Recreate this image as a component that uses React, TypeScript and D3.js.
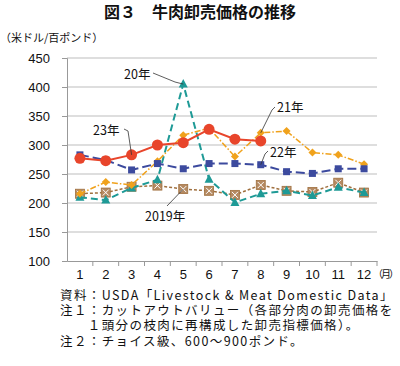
import React, { useEffect, useRef } from 'react';
import * as d3 from 'd3';

const width = 400;
const height = 366;
const margin = { top: 58, right: 23, bottom: 105, left: 67 };

const months = ['1', '2', '3', '4', '5', '6', '7', '8', '9', '10', '11', '12'];
const yTicks = [100, 150, 200, 250, 300, 350, 400, 450];

const y2019 = [216, 218, 228, 230, 224, 221, 214, 231, 221, 219, 235, 218];
const y2020 = [210, 205, 226, 240, 405, 241, 201, 216, 221, 213, 227, 218];
const y2021 = [216, 236, 231, 272, 317, 329, 280, 321, 324, 287, 283, 267];
const y2022 = [283, 274, 257, 268, 259, 268, 268, 266, 254, 251, 259, 259];
const y2023 = [277, 273, 283, 300, 304, 327, 310, 307];

const notes = [
  '資料：USDA「Livestock & Meat Domestic Data」',
  '注１：カットアウトバリュー（各部分肉の卸売価格を',
  '　　１頭分の枝肉に再構成した卸売指標価格）。',
  '注２：チョイス級、600～900ポンド。',
];

const JP = '"Noto Sans CJK JP", "Noto Sans", sans-serif';
const NUM = '"Liberation Sans", Arial, sans-serif';

type Series = {
  name: string;
  values: number[];
  color: string;
  dash: string;
  lineWidth: number;
  marker: 'circle' | 'square' | 'diamond' | 'triangle' | 'xsquare';
};

const series: Series[] = [
  { name: '2019年', values: y2019, color: '#a0703f', dash: '3,2', lineWidth: 1.5, marker: 'xsquare' },
  { name: '20年', values: y2020, color: '#1e9a96', dash: '7,4', lineWidth: 2, marker: 'triangle' },
  { name: '21年', values: y2021, color: '#f0a21c', dash: '6,2,1.5,2', lineWidth: 1.5, marker: 'diamond' },
  { name: '22年', values: y2022, color: '#3c4a9e', dash: '9,4', lineWidth: 2, marker: 'square' },
  { name: '23年', values: y2023, color: '#e8452b', dash: '', lineWidth: 2, marker: 'circle' },
];

// label text position + which point the leader goes to
const labels = [
  { text: '20年', tx: 124, ty: 79, series: 1, month: 4, path: [[153, 73], [175, 82]] },
  { text: '23年', tx: 93, ty: 135, series: 4, month: 2, path: [[124, 129], [128, 131]] },
  { text: '21年', tx: 277, ty: 112, series: 2, month: 7, path: [[275, 107], [272, 110]] },
  { text: '22年', tx: 270, ty: 157, series: 3, month: 7, path: [[268, 151], [265, 154]] },
  { text: '2019年', tx: 145, ty: 221, series: 0, month: 4, path: [[167, 206]] },
];

export default function App() {
  const ref = useRef<SVGSVGElement>(null);

  useEffect(() => {
    if (!ref.current) return;
    const root = d3.select(ref.current);
    root.selectAll('*').remove();

    const x = d3
      .scaleBand<string>()
      .domain(months)
      .range([margin.left, width - margin.right]);
    const y = d3
      .scaleLinear()
      .domain([100, 450])
      .range([height - margin.bottom, margin.top]);
    const cx = (i: number) => (x(months[i]) ?? 0) + x.bandwidth() / 2;

    // title
    root
      .append('text')
      .attr('x', 200)
      .attr('y', 18)
      .attr('text-anchor', 'middle')
      .style('font-family', JP)
      .style('font-weight', 'bold')
      .style('font-size', '16px')
      .attr('fill', '#111')
      .text('図３　牛肉卸売価格の推移');

    root
      .append('text')
      .attr('x', 0)
      .attr('y', 42)
      .style('font-family', JP)
      .style('font-size', '11px')
      .attr('fill', '#111')
      .text('（米ドル/百ポンド）');

    // grid
    root
      .append('g')
      .selectAll('line')
      .data(yTicks.slice(1))
      .enter()
      .append('line')
      .attr('x1', margin.left)
      .attr('x2', width - margin.right)
      .attr('y1', (d) => y(d))
      .attr('y2', (d) => y(d))
      .attr('stroke', '#bdbdbd')
      .attr('stroke-width', 1);

    // y axis
    const yAxis = root
      .append('g')
      .attr('transform', `translate(${margin.left},0)`)
      .call(d3.axisLeft(y).tickValues(yTicks).tickSize(5).tickPadding(12));
    yAxis.select('.domain').attr('stroke', '#999');
    yAxis.selectAll('.tick line').attr('stroke', '#999');
    yAxis
      .selectAll('.tick text')
      .style('font-family', NUM)
      .style('font-size', '13px')
      .attr('fill', '#111');

    // x axis
    const base = height - margin.bottom;
    const xAxis = root
      .append('g')
      .attr('transform', `translate(0,${base})`)
      .call(d3.axisBottom(x).tickSize(0).tickPadding(9));
    xAxis.select('.domain').attr('stroke', '#999');
    xAxis
      .selectAll('.tick text')
      .style('font-family', NUM)
      .style('font-size', '13px')
      .attr('fill', '#111');
    root
      .append('g')
      .selectAll('line')
      .data(months)
      .enter()
      .append('line')
      .attr('x1', (d) => (x(d) ?? 0) + x.bandwidth())
      .attr('x2', (d) => (x(d) ?? 0) + x.bandwidth())
      .attr('y1', base)
      .attr('y2', base + 5)
      .attr('stroke', '#999');
    root
      .append('text')
      .attr('x', 373)
      .attr('y', base + 17)
      .style('font-family', JP)
      .style('font-size', '10px')
      .style('letter-spacing', '-2px')
      .attr('fill', '#111')
      .text('（月）');

    // series
    series.forEach((s) => {
      const g = root.append('g');
      const line = d3
        .line<number>()
        .x((_, i) => cx(i))
        .y((d) => y(d));
      g.append('path')
        .attr('d', line(s.values))
        .attr('fill', 'none')
        .attr('stroke', s.color)
        .attr('stroke-width', s.lineWidth)
        .attr('stroke-dasharray', s.dash || null);

      const pts = g
        .selectAll('g.pt')
        .data(s.values)
        .enter()
        .append('g')
        .attr('transform', (d, i) => `translate(${cx(i)},${y(d)})`);

      if (s.marker === 'circle') {
        pts.append('circle').attr('r', 5.5).attr('fill', s.color);
      } else if (s.marker === 'square') {
        pts.append('rect').attr('x', -3.5).attr('y', -3.5).attr('width', 7).attr('height', 7).attr('fill', s.color);
      } else if (s.marker === 'diamond') {
        pts.append('path').attr('d', 'M0,-4L4,0L0,4L-4,0Z').attr('fill', s.color);
      } else if (s.marker === 'triangle') {
        pts.append('path').attr('d', 'M0,-5L4.5,3.5L-4.5,3.5Z').attr('fill', s.color);
      } else {
        pts
          .append('rect')
          .attr('x', -4.5)
          .attr('y', -4.5)
          .attr('width', 9)
          .attr('height', 9)
          .attr('fill', '#b58a62')
          .attr('stroke', s.color)
          .attr('stroke-width', 0.8);
        pts
          .append('path')
          .attr('d', 'M-3,-3L3,3M3,-3L-3,3')
          .attr('stroke', '#fff')
          .attr('stroke-width', 1);
      }
    });

    // annotations
    labels.forEach((l) => {
      const s = series[l.series];
      const px = cx(l.month);
      const py = y(s.values[l.month]);
      const pts: [number, number][] = [...(l.path as [number, number][]), [px, py]];
      root
        .append('path')
        .attr('d', d3.line()(pts))
        .attr('fill', 'none')
        .attr('stroke', '#333')
        .attr('stroke-width', 0.8);
      root
        .append('text')
        .attr('x', l.tx)
        .attr('y', l.ty)
        .style('font-family', JP)
        .style('font-size', '12.5px')
        .attr('fill', '#111')
        .text(l.text);
    });

    // notes
    root
      .append('g')
      .selectAll('text')
      .data(notes)
      .enter()
      .append('text')
      .attr('x', 60)
      .attr('y', (_, i) => 300 + i * 15.2)
      .style('font-family', JP)
      .style('font-size', '12.5px')
      .style('letter-spacing', '1.4px')
      .attr('fill', '#111')
      .text((d) => d);
  }, []);

  return (
    <svg
      ref={ref}
      width={width}
      height={height}
      style={{ position: 'absolute', left: 0, top: 0, background: '#fff' }}
    />
  );
}
